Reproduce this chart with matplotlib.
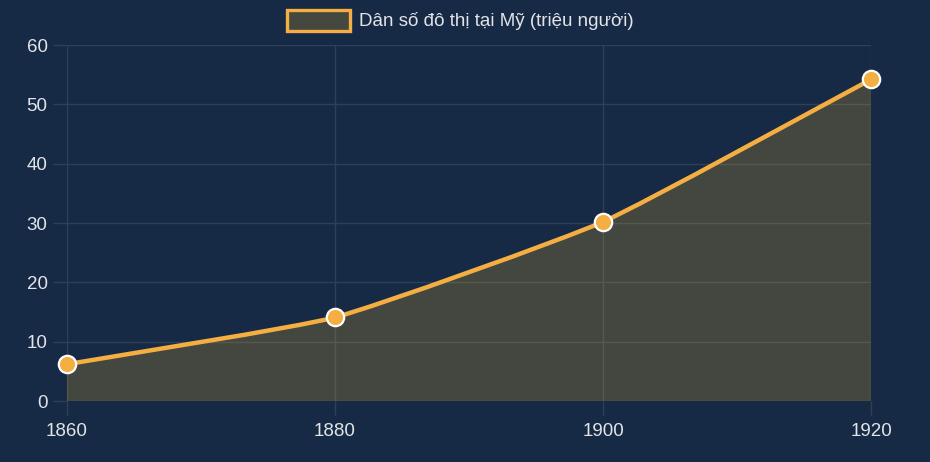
import matplotlib
matplotlib.use("Agg")
import matplotlib.pyplot as plt
import numpy as np
from matplotlib.patches import Rectangle, PathPatch
from matplotlib.path import Path

years = [1860, 1880, 1900, 1920]
urban_pop = [6.2, 14.1, 30.2, 54.2]
y_ticks = [0, 10, 20, 30, 40, 50, 60]
series_label = "Dân số đô thị tại Mỹ (triệu người)"

BG = "#172a45"
GRID = "#2e4058"
LINE = "#f4ae42"
TEXT = "#e2e4e8"
FILL = "#c8a02e"
TENSION = 0.15

plt.rcParams['font.family'] = ['Liberation Sans', 'DejaVu Sans']

fig = plt.figure(figsize=(9.3, 4.62), dpi=100, facecolor=BG)
W, H = 930, 462
ax = fig.add_axes([67 / W, 1 - 401 / H, (871 - 67) / W, (401 - 45) / H])
ax.set_facecolor(BG)
ax.set_xlim(years[0], years[-1])
ax.set_ylim(y_ticks[0], y_ticks[-1])

# Chart.js-style spline through the data points (control points in display space)
pts = ax.transData.transform(np.column_stack([years, urban_pop]))
n = len(pts)
verts = [pts[0]]
codes = [Path.MOVETO]
cps = []
for i in range(n):
    prev = pts[max(i - 1, 0)]
    cur = pts[i]
    nxt = pts[min(i + 1, n - 1)]
    d01 = np.hypot(*(cur - prev))
    d12 = np.hypot(*(nxt - cur))
    tot = d01 + d12 if (d01 + d12) > 0 else 1
    fa = TENSION * d01 / tot
    fb = TENSION * d12 / tot
    cps.append((cur - fa * (nxt - prev), cur + fb * (nxt - prev)))
for i in range(n - 1):
    verts += [cps[i][1], cps[i + 1][0], pts[i + 1]]
    codes += [Path.CURVE4] * 3
inv = ax.transData.inverted()
data_verts = inv.transform(np.array(verts))
line_path = Path(data_verts, codes)

fill_verts = np.vstack([data_verts, [[years[-1], 0], [years[0], 0], data_verts[0]]])
fill_codes = codes + [Path.LINETO, Path.LINETO, Path.CLOSEPOLY]
ax.add_patch(PathPatch(Path(fill_verts, fill_codes), facecolor=FILL, alpha=0.25,
                       linewidth=0, zorder=2))
ax.add_patch(PathPatch(line_path, facecolor='none', edgecolor=LINE, linewidth=3.2,
                       zorder=3, capstyle='round', joinstyle='round'))
ax.plot(years, urban_pop, linestyle='none', marker='o', markersize=12.5,
        markerfacecolor=LINE, markeredgecolor='white', markeredgewidth=1.6, zorder=4, clip_on=False)

ax.set_xticks(years)
ax.set_xticklabels([str(y) for y in years])
ax.set_yticks(y_ticks)
ax.grid(True, color=GRID, linewidth=1, zorder=1)
ax.set_axisbelow(True)
for s in ax.spines.values():
    s.set_visible(False)
ax.tick_params(axis='both', colors=GRID, length=10, width=1, labelcolor=TEXT, labelsize=13.5)
ax.tick_params(axis='y', pad=4)
ax.tick_params(axis='x', pad=6)

# Legend
bx, by, bw, bh = 287, 10, 63, 21
fig.patches.append(Rectangle((bx / W, 1 - (by + bh) / H), bw / W, bh / H, transform=fig.transFigure,
                             facecolor="#44483f", edgecolor=LINE, linewidth=2.4))
fig.text(359 / W, 1 - 21 / H, series_label, color=TEXT, fontsize=13.5, va='center', ha='left')

fig.savefig("out.png", dpi=100, facecolor=BG)
